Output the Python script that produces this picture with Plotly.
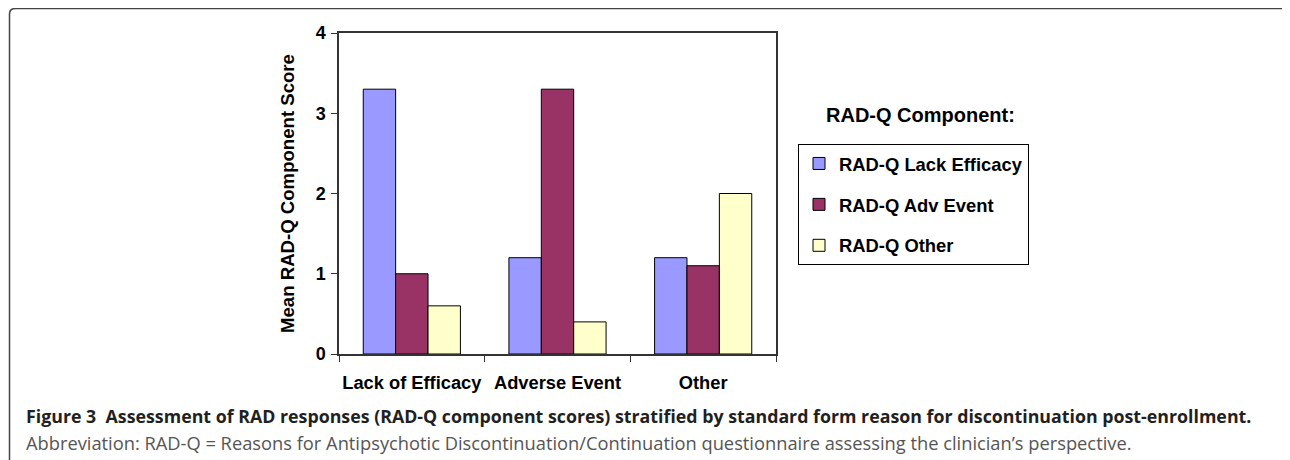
import plotly.graph_objects as go

categories = ["Lack of Efficacy", "Adverse Event", "Other"]
series_names = ["RAD-Q Lack Efficacy", "RAD-Q Adv Event", "RAD-Q Other"]
lack_efficacy = [3.3, 1.2, 1.2]
adv_event = [1.0, 3.3, 1.1]
other = [0.6, 0.4, 2.0]
y_ticks = [0, 1, 2, 3, 4]
colors = ["#9999FF", "#993366", "#FFFFCC"]

OFF = 8  # page body margin
W, H = 1290 - OFF, 460 - OFF
def px(x):
    return (x - OFF) / W
def py(y):
    return 1 - (y - OFF) / H

fig = go.Figure()
for i, (name, vals) in enumerate(zip(series_names, [lack_efficacy, adv_event, other])):
    fig.add_trace(go.Bar(
        x=categories, y=vals, name=name, legendgroup=str(i),
        marker=dict(color=colors[i], line=dict(color="black", width=1)),
    ))

ARIAL = "Liberation Sans, Arial, sans-serif"
CAP = "Open Sans, sans-serif"

fig.update_layout(
    width=W, height=H,
    margin=dict(l=0, r=0, t=0, b=0),
    paper_bgcolor="white", plot_bgcolor="white",
    barmode="group", bargap=0.333, bargroupgap=0,
    font=dict(family=ARIAL, color="black"),
    xaxis=dict(
        domain=[px(339), px(776)],
        showline=True, linecolor="#333", linewidth=1.5, mirror=True,
        ticks="outside", tickson="boundaries", ticklen=6, tickcolor="#333",
        tickfont=dict(family=ARIAL, size=18.3, weight="bold"),
        tickangle=0, ticklabelstandoff=11,
        automargin=False,
    ),
    yaxis=dict(
        domain=[py(354), py(33)],
        range=[0, 4], tickvals=y_ticks,
        showline=True, linecolor="#333", linewidth=1.5, mirror=True,
        showgrid=False, zeroline=False,
        ticks="outside", ticklen=6, tickcolor="#333",
        tickfont=dict(family=ARIAL, size=18, weight="bold"),
        ticklabelstandoff=2,
        title=dict(text="Mean RAD-Q Component Score", font=dict(family=ARIAL, size=18.6, weight="bold"), standoff=16),
        automargin=False,
    ),
    legend=dict(
        x=px(798), y=py(144), xanchor="left", yanchor="top",
        bordercolor="black", borderwidth=1, bgcolor="white",
        font=dict(family=ARIAL, size=18.4, weight="bold"),
        traceorder="grouped", tracegroupgap=14,
        itemwidth=30,
    ),
)

fig.add_annotation(
    x=px(921), y=py(115), xref="paper", yref="paper",
    text="<b>RAD-Q Component:</b>", showarrow=False,
    font=dict(family=ARIAL, size=20, color="black"),
    xanchor="center", yanchor="middle",
)
fig.add_annotation(
    x=px(24), y=py(416), xref="paper", yref="paper",
    text="<b>Figure 3</b>  <b>Assessment of RAD responses (RAD-Q component scores) stratified by standard form reason for discontinuation post-enrollment.</b>",
    showarrow=False, xanchor="left", yanchor="middle",
    font=dict(family=CAP, size=17.8, color="#231f20"),
)
fig.add_annotation(
    x=px(24), y=py(442), xref="paper", yref="paper",
    text="Abbreviation: RAD-Q = Reasons for Antipsychotic Discontinuation/Continuation questionnaire assessing the clinician’s perspective.",
    showarrow=False, xanchor="left", yanchor="middle",
    font=dict(family=CAP, size=18.3, color="#555555"),
)
# outer rounded frame (open at bottom)
fig.add_shape(
    type="path", xref="paper", yref="paper",
    path=f"M {px(9.5)} {py(470)} L {px(9.5)} {py(14)} Q {px(9.5)} {py(8.5)} {px(15.5)} {py(8.5)} L {px(1281)} {py(8.5)} Q {px(1287.5)} {py(8.5)} {px(1287.5)} {py(14)} L {px(1287.5)} {py(470)}",
    line=dict(color="#444", width=1.5),
)

fig.write_html("out.html")
